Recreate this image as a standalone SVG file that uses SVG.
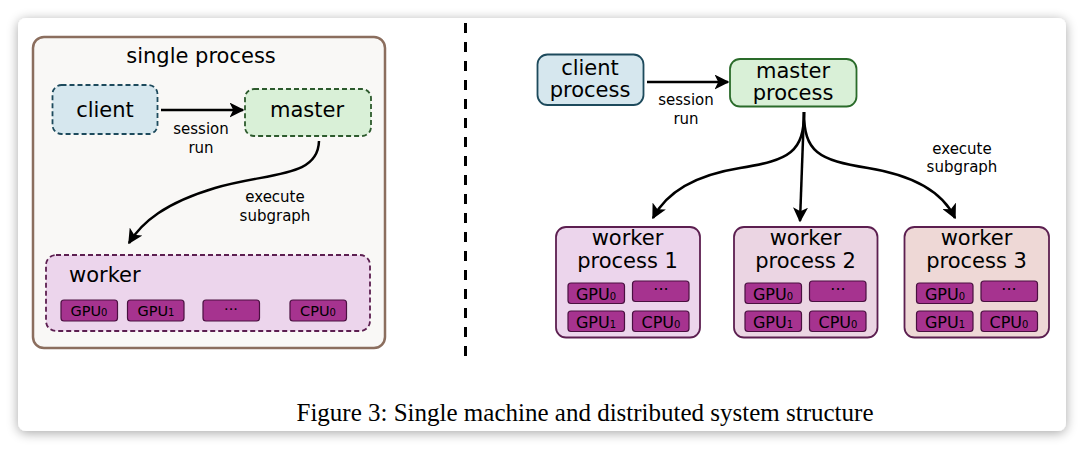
<svg xmlns="http://www.w3.org/2000/svg" width="1084" height="449" viewBox="0 0 1084 449">
<defs>
<filter id="sh" x="-5%" y="-10%" width="110%" height="120%">
<feGaussianBlur in="SourceAlpha" stdDeviation="6"/>
<feOffset dx="0" dy="2" result="b"/>
<feComponentTransfer><feFuncA type="linear" slope="0.35"/></feComponentTransfer>
<feMerge><feMergeNode/><feMergeNode in="SourceGraphic"/></feMerge>
</filter>
<marker id="ah" viewBox="0 0 10 10" refX="9" refY="5" markerWidth="6" markerHeight="6" orient="auto" markerUnits="strokeWidth">
<path d="M0,0 L10,5 L0,10 L2.5,5 Z" fill="#000"/>
</marker>
</defs>
<style>
text{font-family:"DejaVu Sans","Liberation Sans",sans-serif;fill:#000}
.big{font-size:21px}
.lbl{font-size:15px}
.chip{fill:#a6338f;stroke:#4a1040;stroke-width:1.2}
.ct{font-size:14.5px;text-anchor:middle}
.ct2{font-size:16px;text-anchor:middle}
.sub{font-size:10px}
.con{fill:none;stroke:#000;stroke-width:2.5;marker-end:url(#ah)}
.cap{font-family:"Liberation Serif",serif;font-size:25px}
</style>
<rect x="0" y="0" width="1084" height="449" fill="#ffffff"/>
<rect x="18" y="18" width="1048" height="413" rx="8" fill="#ffffff" filter="url(#sh)"/>

<line x1="465.5" y1="23" x2="465.5" y2="364" stroke="#000" stroke-width="3" stroke-dasharray="10,9"/>

<g id="single-process">
<rect x="33" y="37" width="352" height="311" rx="11" fill="#f9f8f6" stroke="#8b6e5e" stroke-width="2.5"/>
<text class="big" x="201" y="63" text-anchor="middle">single process</text>
</g>

<g id="client">
<rect x="52.5" y="85" width="105" height="49" rx="9" fill="#d6e7ee" stroke="#1d4a5c" stroke-width="1.8" stroke-dasharray="5,3"/>
<text class="big" x="105" y="117" text-anchor="middle">client</text>
</g>

<g id="master">
<rect x="245" y="89" width="126" height="47" rx="9" fill="#d9f0d7" stroke="#2d5a2d" stroke-width="1.8" stroke-dasharray="5,3"/>
<text class="big" x="307" y="117" text-anchor="middle">master</text>
</g>

<g id="worker">
<rect x="46" y="255" width="324" height="76" rx="10" fill="#ecd5ec" stroke="#5c1f50" stroke-width="1.8" stroke-dasharray="5,3"/>
<text class="big" x="69" y="282">worker</text>
<rect class="chip" x="61" y="300" width="56.5" height="21" rx="3"/>
<text class="ct" x="89" y="316">GPU<tspan class="sub">0</tspan></text>
<rect class="chip" x="127.5" y="300" width="56.5" height="21" rx="3"/>
<text class="ct" x="156" y="316">GPU<tspan class="sub">1</tspan></text>
<rect class="chip" x="203" y="300" width="56.5" height="21" rx="3"/>
<text class="ct" x="231" y="314">···</text>
<rect class="chip" x="290" y="300" width="56.5" height="21" rx="3"/>
<text class="ct" x="318" y="316">CPU<tspan class="sub">0</tspan></text>
</g>

<g id="client-process">
<rect x="537.5" y="54.5" width="106" height="50.5" rx="10" fill="#d6e7ee" stroke="#1d4a5c" stroke-width="1.8"/>
<text class="big" x="590" y="75" text-anchor="middle">client</text>
<text class="big" x="590" y="97" text-anchor="middle">process</text>
</g>

<g id="master-process">
<rect x="730" y="59" width="126.5" height="47.5" rx="10" fill="#d9f0d7" stroke="#2a6b2a" stroke-width="1.8"/>
<text class="big" x="793" y="78" text-anchor="middle">master</text>
<text class="big" x="793" y="100" text-anchor="middle">process</text>
</g>

<g id="worker-process-1">
<rect x="556" y="227" width="144" height="110.5" rx="10" fill="#ecd5ec" stroke="#5c1f50" stroke-width="1.8"/>
<text class="big" x="627.5" y="245" text-anchor="middle">worker</text>
<text class="big" x="627.5" y="268" text-anchor="middle">process 1</text>
<rect class="chip" x="568" y="283" width="56.5" height="20.5" rx="3"/>
<text class="ct2" x="596" y="299.5">GPU<tspan class="sub">0</tspan></text>
<rect class="chip" x="632.5" y="281" width="56.5" height="20.5" rx="3"/>
<text class="ct2" x="661" y="295">···</text>
<rect class="chip" x="568" y="311" width="56.5" height="20.5" rx="3"/>
<text class="ct2" x="596" y="327.5">GPU<tspan class="sub">1</tspan></text>
<rect class="chip" x="632.5" y="311" width="56.5" height="20.5" rx="3"/>
<text class="ct2" x="661" y="327.5">CPU<tspan class="sub">0</tspan></text>
</g>

<g id="worker-process-2">
<rect x="734" y="227" width="143.5" height="110.5" rx="10" fill="#ebd5e3" stroke="#5c1f50" stroke-width="1.8"/>
<text class="big" x="805.5" y="245" text-anchor="middle">worker</text>
<text class="big" x="805.5" y="268" text-anchor="middle">process 2</text>
<rect class="chip" x="745" y="283" width="56.5" height="20.5" rx="3"/>
<text class="ct2" x="773" y="299.5">GPU<tspan class="sub">0</tspan></text>
<rect class="chip" x="809.5" y="281" width="56.5" height="20.5" rx="3"/>
<text class="ct2" x="838" y="295">···</text>
<rect class="chip" x="745" y="311" width="56.5" height="20.5" rx="3"/>
<text class="ct2" x="773" y="327.5">GPU<tspan class="sub">1</tspan></text>
<rect class="chip" x="809.5" y="311" width="56.5" height="20.5" rx="3"/>
<text class="ct2" x="838" y="327.5">CPU<tspan class="sub">0</tspan></text>
</g>

<g id="worker-process-3">
<rect x="904.5" y="227" width="144.5" height="110.5" rx="10" fill="#eed8d6" stroke="#5c1f50" stroke-width="1.8"/>
<text class="big" x="976.5" y="245" text-anchor="middle">worker</text>
<text class="big" x="976.5" y="268" text-anchor="middle">process 3</text>
<rect class="chip" x="916.5" y="283" width="56.5" height="20.5" rx="3"/>
<text class="ct2" x="945" y="299.5">GPU<tspan class="sub">0</tspan></text>
<rect class="chip" x="981" y="281" width="56.5" height="20.5" rx="3"/>
<text class="ct2" x="1009" y="295">···</text>
<rect class="chip" x="916.5" y="311" width="56.5" height="20.5" rx="3"/>
<text class="ct2" x="945" y="327.5">GPU<tspan class="sub">1</tspan></text>
<rect class="chip" x="981" y="311" width="56.5" height="20.5" rx="3"/>
<text class="ct2" x="1009" y="327.5">CPU<tspan class="sub">0</tspan></text>
</g>

<g id="connectors">
<path class="con" d="M161,110 L243,110"/>
<text class="lbl" x="201" y="134" text-anchor="middle">session</text>
<text class="lbl" x="201" y="152.5" text-anchor="middle">run</text>
<path class="con" d="M319,141 C318,178 270,172 215,188 C165,203 142,222 129,243"/>
<text class="lbl" x="275" y="202" text-anchor="middle">execute</text>
<text class="lbl" x="275" y="220.5" text-anchor="middle">subgraph</text>

<path class="con" d="M647,82 L728,82"/>
<text class="lbl" x="686" y="105" text-anchor="middle">session</text>
<text class="lbl" x="686" y="123.5" text-anchor="middle">run</text>
<path class="con" d="M804,112 C804,152 790,160 740,168 C690,176 665,195 653,218"/>
<path class="con" d="M804,112 L800,221"/>
<path class="con" d="M804,112 C804,152 818,160 868,168 C918,176 944,195 955,218"/>
<text class="lbl" x="962" y="153.5" text-anchor="middle">execute</text>
<text class="lbl" x="962" y="172" text-anchor="middle">subgraph</text>
</g>

<text class="cap" x="585" y="421" text-anchor="middle">Figure 3: Single machine and distributed system structure</text>
</svg>
